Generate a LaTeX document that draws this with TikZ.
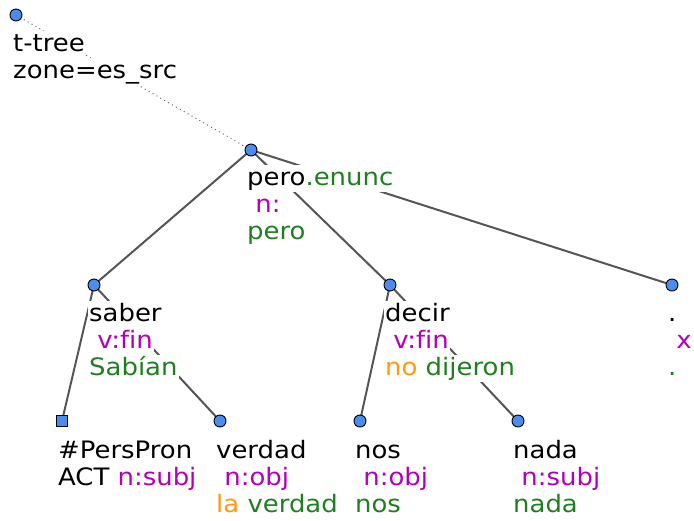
\documentclass[tikz,border=0pt]{standalone}
\usepackage{fontspec}
\setmainfont{DejaVu Sans}[FakeStretch=1.08,Ligatures=NoCommon]
\definecolor{nodeblue}{HTML}{4A8CF0}
\definecolor{edgegray}{HTML}{555555}
\definecolor{tmag}{HTML}{B000B8}
\definecolor{tgrn}{HTML}{1E7F1E}
\definecolor{torg}{HTML}{FF9A10}
\newcommand\cmag[1]{\textcolor{tmag}{#1}}
\newcommand\cgrn[1]{\textcolor{tgrn}{#1}}
\newcommand\corg[1]{\textcolor{torg}{#1}}
\tikzset{
  tnode/.style={circle,draw=black,line width=0.9pt,fill=nodeblue,minimum size=12pt,inner sep=0pt},
  snode/.style={rectangle,draw=black,line width=0.9pt,fill=nodeblue,minimum size=11pt,inner sep=0pt},
  treeedge/.style={draw=edgegray,line width=2pt},
  rootedge/.style={draw=edgegray,line width=0.9pt,dash pattern=on 1pt off 3.5pt},
  lbl/.style={anchor=base west,fill=white,inner xsep=1pt,inner ysep=0pt,text height=21pt,text depth=6.5pt,
    font=\fontsize{24}{27}\selectfont}
}
\begin{document}
\begin{tikzpicture}[x=1pt,y=-1pt]
\useasboundingbox (0,0) rectangle (694,521);
% node positions
\coordinate (r) at (16,15);
\coordinate (pe) at (251,150);
\coordinate (sa) at (94,285);
\coordinate (de) at (390,285);
\coordinate (pt) at (672,285);
\coordinate (pp) at (62,421);
\coordinate (ve) at (220,421);
\coordinate (no) at (360,421);
\coordinate (na) at (518,421);
% edges
\draw[rootedge] (r) -- (pe);
\draw[treeedge] (pe) -- (sa);
\draw[treeedge] (pe) -- (de);
\draw[treeedge] (pe) -- (pt);
\draw[treeedge] (sa) -- (pp);
\draw[treeedge] (sa) -- (ve);
\draw[treeedge] (de) -- (no);
\draw[treeedge] (de) -- (na);
% labels
\node[lbl] (r1) at (12,52) {t-tree};
\node[lbl] (r2) at (12,79) {zone=es\_src};
\node[lbl] (pe1) at (246,186) {pero\cgrn{.enunc}};
\node[lbl] (pe2) at (246,213) {\cmag{\ n:}};
\node[lbl] (pe3) at (246,240) {\cgrn{pero}};
\node[lbl] (sa1) at (88,322) {saber};
\node[lbl] (sa2) at (88,349) {\cmag{\ v:fin}};
\node[lbl] (sa3) at (88,376) {\cgrn{Sabían}};
\node[lbl] (de1) at (384,322) {decir};
\node[lbl] (de2) at (384,349) {\cmag{\ v:fin}};
\node[lbl] (de3) at (384,376) {\corg{no}\ \cgrn{dijeron}};
\node[lbl] (pt1) at (667,322) {.};
\node[lbl] (pt2) at (667,349) {\cmag{\ x}};
\node[lbl] (pt3) at (667,376) {\cgrn{.}};
\node[lbl] (pp1) at (57,458) {\#PersPron};
\node[lbl] (pp2) at (57,485) {ACT\ \cmag{n:subj}};
\node[lbl] (ve1) at (215,458) {verdad};
\node[lbl] (ve2) at (215,485) {\cmag{\ n:obj}};
\node[lbl] (ve3) at (215,512) {\corg{la}\ \cgrn{verdad}};
\node[lbl] (no1) at (354,458) {nos};
\node[lbl] (no2) at (354,485) {\cmag{\ n:obj}};
\node[lbl] (no3) at (354,512) {\cgrn{nos}};
\node[lbl] (na1) at (512,458) {nada};
\node[lbl] (na2) at (512,485) {\cmag{\ n:subj}};
\node[lbl] (na3) at (512,512) {\cgrn{nada}};
% tree nodes
\node[tnode] (rn) at (r) {};
\node[tnode] (pen) at (pe) {};
\node[tnode] (san) at (sa) {};
\node[tnode] (den) at (de) {};
\node[tnode] (ptn) at (pt) {};
\node[snode] (ppn) at (pp) {};
\node[tnode] (ven) at (ve) {};
\node[tnode] (non) at (no) {};
\node[tnode] (nan) at (na) {};
\end{tikzpicture}
\end{document}
